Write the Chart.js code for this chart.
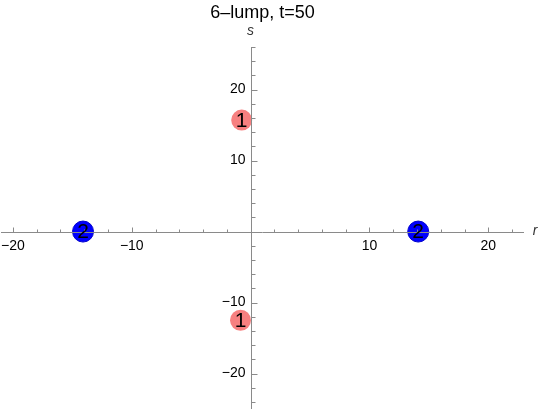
<!DOCTYPE html>
<html>
<head>
<meta charset="utf-8">
<script src="https://cdn.jsdelivr.net/npm/chart.js@4/dist/chart.umd.min.js"></script>
<style>
html,body{margin:0;padding:0;background:#fff;}
#wrap{width:540px;height:412px;}
</style>
</head>
<body>
<div id="wrap"><canvas id="c" width="540" height="412"></canvas></div>
<script>
const titleText = "6\u2013lump, t=50";
const xAxisName = "r";
const yAxisName = "s";

const blueX = [-14.1, 14.1];
const blueY = [0, 0];
const blueLabels = ["2", "2"];

const pinkX = [-0.75, -0.85];
const pinkY = [15.7, -12.5];
const pinkLabels = ["1", "1"];

const xRange = [-21, 23];
const yRange = [-25, 26];

const xMajorTicks = [-20, -10, 10, 20];
const xMajorLabels = ["\u221220", "\u221210", "10", "20"];
const xMinorTicks = [-18, -16, -14, -12, -8, -6, -4, -2, 2, 4, 6, 8, 12, 14, 16, 18, 22];

const yMajorTicks = [-20, -10, 10, 20];
const yMajorLabels = ["\u221220", "\u221210", "10", "20"];
const yMinorTicks = [-24, -22, -18, -16, -14, -12, -8, -6, -4, -2, 2, 4, 6, 8, 12, 14, 16, 18, 22, 24, 26];

const toPts = (xs, ys) => xs.map((v, i) => ({x: v, y: ys[i]}));

const axesPlugin = {
  id: 'axesPlugin',
  afterDatasetsDraw(chart) {
    const {ctx, chartArea: ca, scales: {x, y}} = chart;
    const x0 = Math.round(x.getPixelForValue(0)) + 0.5;
    const y0 = Math.round(y.getPixelForValue(0)) + 0.5;
    ctx.save();
    ctx.strokeStyle = '#8a8a8a';
    ctx.lineWidth = 1;
    ctx.beginPath();
    ctx.moveTo(ca.left, y0); ctx.lineTo(ca.right, y0);
    ctx.moveTo(x0, ca.top); ctx.lineTo(x0, ca.bottom);
    xMajorTicks.forEach(v => { const p = Math.round(x.getPixelForValue(v)) + 0.5; ctx.moveTo(p, y0); ctx.lineTo(p, y0 - 5); });
    xMinorTicks.forEach(v => { const p = Math.round(x.getPixelForValue(v)) + 0.5; ctx.moveTo(p, y0); ctx.lineTo(p, y0 - 3); });
    yMajorTicks.forEach(v => { const p = Math.round(y.getPixelForValue(v)) + 0.5; ctx.moveTo(x0, p); ctx.lineTo(x0 + 6, p); });
    yMinorTicks.forEach(v => { const p = Math.round(y.getPixelForValue(v)) + 0.5; ctx.moveTo(x0, p); ctx.lineTo(x0 + 4, p); });
    ctx.stroke();

    ctx.fillStyle = '#000';
    ctx.font = '14px "Liberation Sans", Arial, sans-serif';
    ctx.textAlign = 'center';
    ctx.textBaseline = 'middle';
    xMajorTicks.forEach((v, i) => ctx.fillText(xMajorLabels[i], x.getPixelForValue(v), y0 + 14));
    ctx.textAlign = 'right';
    yMajorTicks.forEach((v, i) => ctx.fillText(yMajorLabels[i], x0 - 6, y.getPixelForValue(v)));

    ctx.font = 'italic 14px "Liberation Sans", Arial, sans-serif';
    ctx.fillStyle = '#333';
    ctx.textAlign = 'center';
    ctx.fillText(yAxisName, x0 - 1, 31);
    ctx.fillText(xAxisName, 535, y0 - 1);

    ctx.fillStyle = '#000';
    ctx.font = '18px "Liberation Sans", Arial, sans-serif';
    ctx.fillText(titleText, (ca.left + ca.right) / 2, 13);

    ctx.font = '21px "Liberation Sans", Arial, sans-serif';
    chart.data.datasets.forEach((ds, di) => {
      const meta = chart.getDatasetMeta(di);
      meta.data.forEach((el, j) => ctx.fillText(ds.pointLabels[j], el.x, el.y + 1));
    });
    ctx.restore();
  }
};

new Chart(document.getElementById('c'), {
  type: 'scatter',
  data: {
    datasets: [
      {data: toPts(blueX, blueY), pointLabels: blueLabels, backgroundColor: '#0000ff', borderColor: '#0000cc', borderWidth: 1, pointRadius: 10.5, pointHoverRadius: 10.5},
      {data: toPts(pinkX, pinkY), pointLabels: pinkLabels, backgroundColor: '#f78080', borderColor: '#f78080', borderWidth: 0, pointRadius: 10.5, pointHoverRadius: 10.5}
    ]
  },
  options: {
    responsive: false,
    animation: false,
    layout: {autoPadding: false, padding: {left: 1, right: 16, top: 47, bottom: 3}},
    plugins: {legend: {display: false}, tooltip: {enabled: false}, title: {display: false}},
    scales: {
      x: {type: 'linear', min: xRange[0], max: xRange[1], display: false},
      y: {type: 'linear', min: yRange[0], max: yRange[1], display: false}
    }
  },
  plugins: [axesPlugin]
});
</script>
</body>
</html>
